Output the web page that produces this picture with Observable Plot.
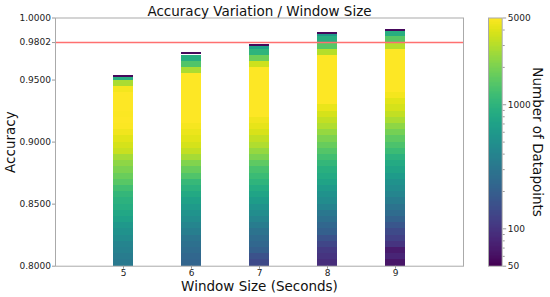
<!DOCTYPE html>
<html>
<head>
<meta charset="utf-8">
<script src="https://cdn.jsdelivr.net/npm/d3@7"></script>
<script src="https://cdn.jsdelivr.net/npm/@observablehq/plot@0.6"></script>
<style>
  html, body { margin: 0; padding: 0; background: white; }
  #wrap { position: relative; width: 550px; height: 297px; font-family: "DejaVu Sans", sans-serif; }
  #wrap svg { position: absolute; top: 0; }
</style>
</head>
<body>
<div id="wrap"></div>
<script>
// ---- data ----
const windows = [5, 6, 7, 8, 9];
const yTicks = [0.8, 0.85, 0.9, 0.95, 0.9802, 1.0];
const threshold = 0.9802;
const binStart = 0.8;
const binStep = 0.005;
const tops = [0.9534, 0.972, 0.9787, 0.988, 0.991];
const capCounts = [55, 55, 55, 55, 55];
const counts5 = [320,340,370,400,460,520,580,680,780,880,950,1050,1250,1500,1750,2000,2300,2700,3400,3700,4100,4500,4900,5000,4900,5000,5000,5000,4600,2800,900];
const counts6 = [220,230,250,270,300,350,410,470,530,600,700,800,950,1100,1400,1700,2100,2700,3300,3700,4100,4400,4700,5000,5000,5000,5000,5000,5000,5000,5000,2800,1400,900];
const counts7 = [140,160,200,230,250,290,340,410,470,530,630,730,850,1000,1150,1300,1600,2000,2400,2900,3300,3800,4200,4500,5000,5000,5000,5000,5000,5000,5000,5000,3500,1800,1000,700];
const counts8 = [90,100,110,130,160,200,230,270,310,390,460,520,600,720,820,920,1050,1250,1450,1700,2000,2400,2900,3300,3700,4300,5000,5000,5000,5000,5000,5000,5000,5000,3000,1500,900,600];
const counts9 = [65,80,70,100,120,140,170,210,250,290,340,410,460,520,620,720,820,950,1150,1350,1600,1900,2300,2800,3300,3700,4100,4600,5000,5000,5000,5000,5000,5000,5000,3000,1500,900];
const colorTicks = [50, 100, 1000, 5000];
const colorMinor = [60, 70, 80, 90, 200, 300, 400, 500, 600, 700, 800, 900, 2000, 3000, 4000];

const allCounts = [counts5, counts6, counts7, counts8, counts9];
const capHeight = 0.0016;
const rows = [];
windows.forEach((w, k) => {
  const capLo = tops[k] - capHeight;
  allCounts[k].forEach((v, i) => {
    const lo = binStart + i * binStep;
    const hi = Math.min(lo + binStep, capLo);
    if (hi > lo) rows.push({w, lo, hi, v});
  });
  rows.push({w, lo: capLo, hi: tops[k], v: capCounts[k]});
});

const font = "DejaVu Sans";
const colorScale = {type: "log", scheme: "viridis", domain: [50, 5000]};

const main = Plot.plot({
  width: 550, height: 297,
  marginLeft: 55, marginRight: 87, marginTop: 17.5, marginBottom: 31.3,
  style: {fontFamily: font, fontSize: "9px", color: "#222", background: "transparent"},
  x: {domain: [4, 10], label: null},
  y: {domain: [0.8, 1.0], label: null},
  color: colorScale,
  marks: [
    Plot.rect(rows, {x1: d => d.w - 0.15, x2: d => d.w + 0.15, y1: "lo", y2: "hi", fill: "v", shapeRendering: "crispEdges"}),
    Plot.ruleY([threshold], {stroke: "#ff7070", strokeWidth: 1.5}),
    Plot.frame({stroke: "#aaa"}),
    Plot.axisY({ticks: yTicks, tickFormat: d3.format(".4f"), tickSize: 3, tickPadding: 1.5, label: null, stroke: "#999"}),
    Plot.axisX({ticks: windows, tickFormat: d3.format("d"), tickSize: 3, tickPadding: 0, label: null, stroke: "#999"}),
    Plot.text(["Accuracy Variation / Window Size"], {frameAnchor: "top", dy: -11.5, fontSize: 13.5, fill: "#111"}),
    Plot.text(["Window Size (Seconds)"], {frameAnchor: "bottom", dy: 24.5, fontSize: 13.5, fill: "#111"}),
    Plot.text(["Accuracy"], {frameAnchor: "left", dx: -45, rotate: -90, textAnchor: "middle", fontSize: 13.5, fill: "#111"})
  ]
});
main.style.left = "0px";

const nSteps = 200;
const grad = d3.range(nSteps).map(i => ({
  lo: 50 * Math.pow(100, i / nSteps),
  hi: 50 * Math.pow(100, (i + 1) / nSteps)
}));

const bar = Plot.plot({
  width: 80, height: 297,
  marginLeft: 18, marginRight: 48.3, marginTop: 17.5, marginBottom: 31.3,
  style: {fontFamily: font, fontSize: "9px", color: "#222", background: "transparent"},
  x: {domain: [0, 1], axis: null},
  y: {type: "log", domain: [50, 5000], label: null},
  color: colorScale,
  marks: [
    Plot.rect(grad, {x1: 0, x2: 1, y1: "lo", y2: "hi", fill: d => Math.sqrt(d.lo * d.hi), shapeRendering: "crispEdges"}),
    Plot.frame({stroke: "#aaa"}),
    Plot.axisY({anchor: "right", ticks: colorTicks, tickFormat: d3.format("d"), tickSize: 3.5, tickPadding: 2, label: null, stroke: "#999"}),
    Plot.axisY({anchor: "right", ticks: colorMinor, tickFormat: () => "", tickSize: 2, label: null, stroke: "#999"}),
    Plot.text(["Number of Datapoints"], {frameAnchor: "right", dx: 35, rotate: 90, textAnchor: "middle", fontSize: 13.5, fill: "#111"})
  ]
});
bar.style.left = "470px";

const wrap = document.getElementById("wrap");
wrap.appendChild(main);
wrap.appendChild(bar);
</script>
</body>
</html>
